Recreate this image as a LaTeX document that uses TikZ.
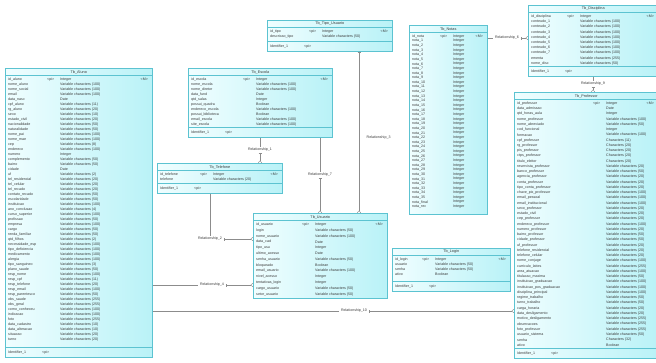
\documentclass[tikz,border=0pt]{standalone}
\usepackage{fontspec}
\setmainfont{Liberation Sans}
\usepackage{tikz}
\usetikzlibrary{arrows.meta,positioning,calc}
\definecolor{entline}{HTML}{5CC3D1}
\definecolor{entleft}{HTML}{F0FEFF}
\definecolor{entright}{HTML}{B9F2F7}
\definecolor{relgray}{HTML}{8C8C8C}
\definecolor{txtgray}{HTML}{3A3A3A}
\newcommand{\efont}{\fontsize{3.6}{4}\selectfont}
\newcommand{\vc}[1]{Variable characters (#1)}
\newcommand{\fixc}[1]{Characters (#1)}
\tikzset{
  ent/.style={draw=entline,line width=0.5pt,left color=entleft,right color=entright,anchor=north west,inner sep=0pt},
  esep/.style={draw=entline,line width=0.4pt},
  etitle/.style={font=\fontsize{3.8}{4}\selectfont,text=txtgray,inner sep=0pt},
  eatt/.style={font=\efont,text=txtgray,anchor=west,inner sep=0pt},
  rel/.style={draw=relgray,line width=0.4pt,{Bar[width=3pt]}-{Straight Barb[reversed,length=2pt,width=3.5pt]}},
  rlbl/.style={font=\efont,text=txtgray,inner sep=1.5pt},
}
% entity: name, x, y, width, height, title, type column, key
\newcommand{\entity}[8]{%
  \def\curtc{#7}%
  \node[ent,minimum width=#4pt,minimum height=#5pt] (#1) at (#2,#3) {};
  \node[etitle] at ($(#1.north)+(0,4)$) {#6};
  \draw[esep] ($(#1.north west)+(0,7.5)$) -- ($(#1.north east)+(0,7.5)$);
  \node[eatt] at ($(#1.north west)+(3,11.5)$) {#8};
  \node[eatt] at ($(#1.north west)+(#7-13,11.5)$) {<pi>};
  \node[eatt] at ($(#1.north west)+(#7,11.5)$) {Integer};
  \node[eatt] at ($(#1.north east)+(-12,11.5)$) {<M>};
}
\newcommand{\entrows}[3]{%
  \foreach \n/\ty [count=\i] in {#3} {
    \node[eatt] at ($(#1.north west)+(3,{11.5+#2*\i})$) {\n};
    \node[eatt] at ($(#1.north west)+(\curtc,{11.5+#2*\i})$) {\ty};
  }
}
\newcommand{\entfoot}[1]{%
  \draw[esep] ($(#1.south west)+(0,-10)$) -- ($(#1.south east)+(0,-10)$);
  \node[eatt] at ($(#1.south west)+(3,-5)$) {Identifier\_1};
  \node[eatt] at ($(#1.south west)+(37,-5)$) {<pi>};
}

\begin{document}
\catcode`\_=12
\begin{tikzpicture}[x=1pt,y=-1pt]
\fill[white] (0,0) rectangle (656,362);
\useasboundingbox (0,0) rectangle (656,362);

% left table
\entity{alu}{5}{68}{147}{289}{Tb_Aluno}{55}{id_aluno}
\entrows{alu}{5}{nome_aluno/\vc{100}, nome_social/\vc{100}, email/\vc{100}, data_nasc/Date,
  cpf_aluno/\vc{11}, rg_aluno/\vc{20}, sexo/\vc{10}, estado_civil/\vc{20}, nacionalidade/\vc{50},
  naturalidade/\vc{50}, nome_pai/\vc{100}, nome_mae/\vc{100}, cep/\vc{8}, endereco/\vc{100},
  numero/Integer, complemento/\vc{50}, bairro/\vc{50}, cidade/Date, uf/\vc{2},
  tel_residencial/\vc{20}, tel_celular/\vc{20}, tel_recado/\vc{20}, contato_recado/\vc{50},
  escolaridade/\vc{50}, instituicao/\vc{100}, ano_conclusao/\vc{4}, curso_superior/\vc{100},
  profissao/\vc{50}, empresa/\vc{100}, cargo/\vc{50}, renda_familiar/\vc{50}, qtd_filhos/\vc{2},
  necessidade_esp/\vc{100}, tipo_deficiencia/\vc{100}, medicamento/\vc{100}, alergia/\vc{100},
  tipo_sanguineo/\vc{3}, plano_saude/\vc{50}, resp_nome/\vc{100}, resp_cpf/\vc{11},
  resp_telefone/\vc{20}, resp_email/\vc{100}, resp_parentesco/\vc{50}, obs_saude/\vc{255},
  obs_geral/\vc{255}, como_conheceu/\vc{100}, indicacao/\vc{100}, foto/\vc{255},
  data_cadastro/\vc{10}, data_alteracao/\vc{10}, situacao/\vc{20}, turno/\vc{20}}
\entfoot{alu}

% top tables
\entity{tipo}{267}{20}{125}{31}{Tb_Tipo_Usuario}{55}{id_tipo}
\entrows{tipo}{4.8}{descricao_tipo/\vc{50}}
\entfoot{tipo}

\entity{esc}{188}{68}{144}{69}{Tb_Escola}{68}{id_escola}
\entrows{esc}{5}{nome_escola/\vc{100}, nome_diretor/\vc{100}, data_fund/Date, qtd_salas/Integer,
  possui_quadra/Boolean, endereco_escola/\vc{100}, possui_biblioteca/Boolean,
  email_escola/\vc{100}, site_escola/\vc{100}}
\entfoot{esc}

\entity{tel}{157}{163}{125}{30}{Tb_Telefone}{56}{id_telefone}
\entrows{tel}{4.8}{telefone/\vc{20}}
\entfoot{tel}

% center table
\entity{usu}{253}{213}{134}{85}{Tb_Usuario}{62}{id_usuario}
\entrows{usu}{5.8}{login/\vc{50}, nome_usuario/\vc{100}, data_cad/Date, tipo_usu/Integer,
  ultimo_acesso/Date, senha_usuario/\vc{50}, bloqueado/Boolean, email_usuario/\vc{100},
  nivel_acesso/Integer, tentativas_login/Integer, cargo_usuario/\vc{50}, setor_usuario/\vc{50}}

% marks
\entity{nota}{409}{25}{78}{189}{Tb_Notas}{44}{id_nota}
\entrows{nota}{4.6}{nota_1/Integer, nota_2/Integer, nota_3/Integer, nota_4/Integer, nota_5/Integer,
  nota_6/Integer, nota_7/Integer, nota_8/Integer, nota_9/Integer, nota_10/Integer,
  nota_11/Integer, nota_12/Integer, nota_13/Integer, nota_14/Integer, nota_15/Integer,
  nota_16/Integer, nota_17/Integer, nota_18/Integer, nota_19/Integer, nota_20/Integer,
  nota_21/Integer, nota_22/Integer, nota_23/Integer, nota_24/Integer, nota_25/Integer,
  nota_26/Integer, nota_27/Integer, nota_28/Integer, nota_29/Integer, nota_30/Integer,
  nota_31/Integer, nota_32/Integer, nota_33/Integer, nota_34/Integer, nota_35/Integer,
  nota_final/Integer, nota_rec/Integer}

\entity{log}{392}{248}{118}{43}{Tb_Login}{43}{id_login}
\entrows{log}{5}{usuario/\vc{50}, senha/\vc{50}, ativo/Boolean}
\entfoot{log}

% right tables
\entity{disc}{528}{5}{130}{71}{Tb_Disciplina}{52}{id_disciplina}
\entrows{disc}{5.2}{conteudo_1/\vc{100}, conteudo_2/\vc{100}, conteudo_3/\vc{100},
  conteudo_4/\vc{100}, conteudo_5/\vc{100}, conteudo_6/\vc{100}, conteudo_7/\vc{100},
  ementa/\vc{255}, nome_disc/\vc{50}}
\entfoot{disc}

\entity{prof}{514}{92}{144}{266}{Tb_Professor}{92}{id_professor}
\entrows{prof}{5.25}{data_admissao/Date, qtd_horas_aula/Integer, nome_professor/\vc{100},
  nome_abreviado/\vc{50}, cod_funcional/Integer, formacao/\vc{100}, cpf_professor/\fixc{11},
  rg_professor/\fixc{20}, pis_professor/\fixc{20}, ctps_professor/\fixc{20},
  titulo_eleitor/\fixc{20}, reservista_professor/\vc{20}, banco_professor/\vc{50},
  agencia_professor/\vc{20}, conta_professor/\vc{20}, tipo_conta_professor/\vc{20},
  chave_pix_professor/\vc{100}, email_pessoal/\vc{100}, email_institucional/\vc{100},
  sexo_professor/\vc{20}, estado_civil/\vc{20}, cep_professor/\vc{20},
  endereco_professor/\vc{100}, numero_professor/\vc{20}, bairro_professor/\vc{50},
  cidade_professor/\vc{50}, uf_professor/\vc{20}, telefone_residencial/\vc{20},
  telefone_celular/\vc{20}, nome_conjuge/\vc{100}, curriculo_lattes/\vc{255},
  area_atuacao/\vc{100}, titulacao_maxima/\vc{50}, instituicao_graduacao/\vc{100},
  instituicao_pos_graduacao/\vc{100}, disciplina_principal/\vc{100}, regime_trabalho/\vc{50},
  turno_trabalho/\vc{50}, carga_horaria/\vc{20}, data_desligamento/\vc{20},
  motivo_desligamento/\vc{255}, observacoes/\vc{255}, foto_professor/\vc{255},
  usuario_sistema/\vc{50}, senha/\fixc{32}, ativo/Boolean}
\entfoot{prof}

% relationships
\node[rlbl] (r1) at (260,150) {Relationship_1};
\node[rlbl] (r7) at (320,175) {Relationship_7};
\node[rlbl] (r2) at (210,239) {Relationship_2};
\node[rlbl] (r4) at (212,285) {Relationship_4};
\node[rlbl] (r10) at (354,311) {Relationship_10};
\node[rlbl] (r6) at (507,38) {Relationship_6};
\node[rlbl] (r9) at (593,84) {Relationship_9};
\coordinate (c3) at (359,138);
\node[rlbl,anchor=west] (r3) at ([xshift=6pt]c3) {Relationship_3};

\draw[rel] (esc.south -| r1) -- (r1) -- (r1 |- tel.north);
\draw[rel] (esc.south -| r7) -- (r7) -- (r7 |- usu.north);
\draw[rel] (tipo.south -| c3) -- (c3 |- usu.north);
\draw[rel] (tel.south -| r2) -- (r2) -- (r2 -| usu.west);
\draw[rel] (alu.east |- r4) -- (r4) -- (r4 -| usu.west);
\draw[rel] (alu.east |- r10) -- (r10) -- (r10 -| prof.west);
\draw[rel] (nota.east |- r6) -- (r6) -- (r6 -| disc.west);
\draw[rel] (disc.south -| r9) -- (r9) -- (r9 |- prof.north);
\end{tikzpicture}
\end{document}
